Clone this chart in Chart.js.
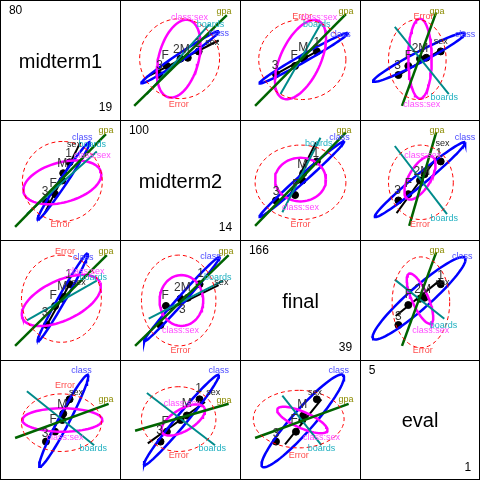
<!DOCTYPE html>
<html>
<head>
<meta charset="utf-8">
<script src="https://cdn.jsdelivr.net/npm/chart.js@4"></script>
<style>
body { margin: 0; background: #fff; }
#grid { position: absolute; left: 0; top: 0; width: 478px; height: 478px; border: 1px solid #000;
  display: grid; grid-template-columns: 119px 119px 119px 118px; grid-template-rows: 119px 119px 119px 118px;
  gap: 1px; background: #000; }
#grid div { background: #fff; position: relative; }
canvas { display: block; }
</style>
</head>
<body>
<div id="grid"></div>
<script>
// variables and their ranges (diagonal)
var varNames = ["midterm1", "midterm2", "final", "eval"];
var varMax = [80, 100, 166, 5];
var varMin = [19, 14, 39, 1];

// upper panels, local cell coords (0..120, y down); lower panels are the transpose
var pairs = [[0, 1], [0, 2], [0, 3], [1, 2], [1, 3], [2, 3]];
// error ellipse: cx, cy, rx, ry, angle
var errorEll = [[59, 58, 44, 44, 0], [62, 59, 48, 44, 0], [57, 59, 32, 44, 0],
  [60, 62, 50, 41, 0], [61, 62, 36, 41, 0], [61, 62, 32, 50, 0]];
var classSexEll = [[58, 58, 44, 22, -75], [60, 59, 47, 22, -65], [60, 58, 44, 13, -90],
  [60, 59, 28, 24, 0], [60, 57, 27, 12, -59], [60, 58, 30, 9, 66]];
// class ellipse: end points and half width
var classEll = [[17, 85, 102, 28, 4], [15, 85, 112, 30, 4], [8, 83, 110, 30, 6],
  [15, 100, 108, 17, 4], [10, 100, 110, 18, 6], [8, 102, 110, 13, 12]];
var gpaLine = [[9, 110, 111, 10], [10, 110, 110, 9], [40, 110, 78, 7],
  [10, 110, 110, 7], [48, 110, 78, 7], [40, 110, 78, 7]];
var boardsLine = [[23, 97, 92, 20], [38, 97, 82, 20], [32, 23, 92, 97],
  [40, 95, 82, 13], [32, 22, 90, 97], [32, 37, 87, 80]];
var sexLine = [[23, 78, 102, 38], [33, 75, 78, 50], [36, 76, 84, 48],
  [48, 77, 77, 18], [34, 96, 80, 33], [33, 77, 83, 37]];
var meanX = [[37, 45, 60, 68, 80], [33, 54, 62, 64, 78], [36, 47, 60, 67, 83],
  [33, 54, 62, 63, 78], [36, 47, 60, 65, 83], [36, 47, 60, 65, 83]];
var meanY = [[76, 66, 58, 57, 50], [75, 66, 58, 56, 50], [76, 66, 58, 57, 50],
  [82, 76, 60, 52, 39], [82, 75, 60, 53, 39], [87, 65, 58, 57, 42]];
var termNames = ["Error", "class", "class:sex", "boards", "gpa", "sex"];
var termColors = ["#ff4d4d", "#4d4dff", "#ff4dff", "#20b0c0", "#8b8b00", "#222222"];
// label positions per upper panel [text, x, y]
var labels = [
  [["3", 37, 66], ["F", 43, 55], ["2M", 61, 48], ["1", 79, 42], ["class:sex", 70, 13], ["boards", 93, 20], ["class", 102, 30], ["sex", 95, 40], ["gpa", 108, 6], ["Error", 58, 109]],
  [["3", 32, 66], ["F", 53, 55], ["M", 63, 46], ["1", 78, 40], ["Error", 62, 12], ["class:sex", 80, 13], ["boards", 78, 20], ["class", 104, 31], ["gpa", 110, 6]],
  [["3", 35, 66], ["F", 47, 55], ["2M", 60, 47], ["sex", 83, 39], ["class", 110, 31], ["gpa", 79, 6], ["Error", 64, 12], ["boards", 87, 101], ["class:sex", 62, 108]],
  [["3", 33, 72], ["F", 55, 65], ["M", 62, 43], ["1", 77, 30], ["boards", 80, 19], ["class", 103, 13], ["gpa", 108, 5], ["class:sex", 60, 90], ["Error", 60, 109]],
  [["3", 35, 71], ["F", 47, 63], ["2M", 62, 50], ["1", 81, 31], ["sex", 85, 19], ["class", 110, 13], ["gpa", 79, 5], ["class:sex", 63, 32], ["boards", 87, 102], ["Error", 60, 109]],
  [["3", 36, 78], ["F", 47, 54], ["2M", 63, 48], ["1", 83, 33], ["sex", 85, 40], ["class", 107, 12], ["gpa", 79, 5], ["boards", 86, 87], ["class:sex", 72, 93], ["Error", 63, 115]]
];
// label positions for the lower (transposed) panels, same pair order, not transposed
var lowerLabels = [
  [["3", 43, 72], ["F", 52, 64], ["M", 62, 42], ["1", 69, 30], ["class", 84, 13], ["sex", 75, 20], ["boards", 95, 20], ["class:sex", 95, 32], ["gpa", 110, 5], ["Error", 60, 109]],
  [["3", 43, 73], ["F", 52, 55], ["M", 62, 45], ["1", 69, 32], ["sex", 80, 40], ["Error", 65, 6], ["class", 85, 13], ["gpa", 110, 6], ["class:sex", 88, 28], ["boards", 96, 35]],
  [["3", 43, 75], ["F", 52, 60], ["M", 62, 43], ["class", 83, 5], ["Error", 65, 22], ["sex", 77, 30], ["gpa", 110, 37], ["class:sex", 65, 80], ["boards", 96, 92]],
  [["3", 62, 70], ["F", 43, 55], ["2M", 62, 46], ["1", 82, 30], ["gpa", 110, 6], ["class", 93, 12], ["boards", 101, 35], ["sex", 105, 40], ["class:sex", 60, 93], ["Error", 60, 115]],
  [["3", 37, 72], ["F", 43, 62], ["M", 67, 42], ["1", 80, 25], ["class", 102, 5], ["sex", 96, 30], ["gpa", 108, 38], ["class:sex", 62, 42], ["boards", 95, 92], ["Error", 58, 99]],
  [["3", 33, 75], ["F", 53, 60], ["M", 62, 43], ["class", 102, 5], ["sex", 76, 30], ["gpa", 110, 37], ["class:sex", 83, 80], ["boards", 83, 92], ["Error", 58, 99]]
];

function ellipse(cx, cy, a, b, ang) {
  var pts = [], t = ang * Math.PI / 180;
  for (var k = 0; k <= 72; k++) {
    var s = k / 72 * 2 * Math.PI;
    var ex = a * Math.cos(s), ey = b * Math.sin(s);
    pts.push({ x: cx + ex * Math.cos(t) - ey * Math.sin(t), y: cy + ex * Math.sin(t) + ey * Math.cos(t) });
  }
  return pts;
}
function ellipseEnds(e) {
  var dx = e[2] - e[0], dy = e[3] - e[1];
  return ellipse((e[0] + e[2]) / 2, (e[1] + e[3]) / 2, Math.sqrt(dx * dx + dy * dy) / 2, e[4], Math.atan2(dy, dx) * 180 / Math.PI);
}
function seg(l) { return [{ x: l[0], y: l[1] }, { x: l[2], y: l[3] }]; }
function colorOf(txt) {
  var i = termNames.indexOf(txt);
  return i < 0 ? "#111" : termColors[i];
}

var textPlugin = {
  id: "txt",
  afterDatasetsDraw: function (chart) {
    var o = chart.options.plugins.txt, ctx = chart.ctx;
    var xs = chart.scales.x, ys = chart.scales.y;
    ctx.save();
    ctx.textBaseline = "middle";
    o.items.forEach(function (it) {
      ctx.font = it[3] || "10px Arial, 'Liberation Sans'";
      ctx.fillStyle = it[4] || colorOf(it[0]);
      ctx.textAlign = it[5] || "center";
      ctx.fillText(it[0], xs.getPixelForValue(it[1]), ys.getPixelForValue(it[2]));
    });
    ctx.restore();
  }
};

var grid = document.getElementById("grid");
for (var r = 0; r < 4; r++) {
  for (var c = 0; c < 4; c++) {
    var cell = document.createElement("div");
    var cv = document.createElement("canvas");
    var w = c == 3 ? 118 : 119, h = r == 3 ? 118 : 119;
    cv.width = w; cv.height = h;
    cell.appendChild(cv); grid.appendChild(cell);
    var datasets = [], items = [];
    if (r == c) {
      items = [[varNames[r], 60, 62, "20px Arial, 'Liberation Sans'", "#000"],
        [String(varMax[r]), 8, 10, "12px Arial, 'Liberation Sans'", "#000", "left"],
        [String(varMin[r]), 112, 108, "12px Arial, 'Liberation Sans'", "#000", "right"]];
    } else {
      var p = -1, flip = r > c;
      pairs.forEach(function (q, k) { if ((q[0] == Math.min(r, c)) && q[1] == Math.max(r, c)) p = k; });
      var tf = function (pts) {
        return flip ? pts.map(function (pt) { return { x: 120 - pt.y, y: 120 - pt.x }; }) : pts;
      };
      var line = function (pts, col, wd, dash) {
        datasets.push({ data: tf(pts), showLine: true, borderColor: col, borderWidth: wd, borderDash: dash || [], pointRadius: 0, tension: 0 });
      };
      line(ellipse.apply(null, errorEll[p]), "#ff0000", 1, [4, 3]);
      line(seg(gpaLine[p]), "#006400", 2.5);
      line(seg(boardsLine[p]), "#008b8b", 2);
      line(ellipse.apply(null, classSexEll[p]), "#ff00ff", 2.5);
      line(ellipseEnds(classEll[p]), "#0000ff", 2.5);
      line(seg(sexLine[p]), "#000000", 2);
      var mp = meanX[p].map(function (x, k) { return { x: x, y: meanY[p][k] }; });
      datasets.push({ data: tf(mp), showLine: false, pointRadius: 3.5, backgroundColor: "#000", borderColor: "#000" });
      items = (flip ? lowerLabels[p] : labels[p]).map(function (l) {
        var f = l[0].length <= 2 ? "12px Arial, 'Liberation Sans'" : "9px Arial, 'Liberation Sans'";
        return [l[0], l[1], l[2], f, l[0].length <= 2 ? "#333" : null];
      });
    }
    new Chart(cv, {
      type: "scatter",
      data: { datasets: datasets },
      options: {
        responsive: false, animation: false, devicePixelRatio: 1,
        layout: { padding: 0 },
        scales: {
          x: { display: false, min: 0, max: 120 },
          y: { display: false, min: 0, max: 120, reverse: true }
        },
        plugins: { legend: { display: false }, tooltip: { enabled: false }, txt: { items: items } }
      },
      plugins: [textPlugin]
    });
  }
}
</script>
</body>
</html>
